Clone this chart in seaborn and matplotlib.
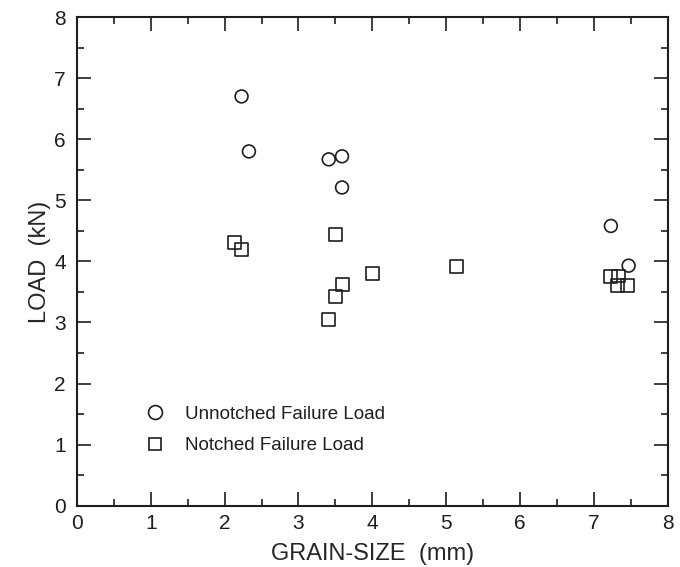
import matplotlib
matplotlib.use("Agg")
import matplotlib.pyplot as plt
import seaborn as sns
import pandas as pd
import numpy as np
from matplotlib.lines import Line2D

# Data
unnotched_x = [2.23, 2.33, 3.41, 3.59, 3.59, 7.23, 7.47]
unnotched_y = [6.70, 5.80, 5.67, 5.72, 5.21, 4.58, 3.93]
notched_x = [2.13, 2.23, 3.50, 3.60, 3.50, 3.41, 4.00, 5.14, 7.22, 7.33, 7.32, 7.45]
notched_y = [4.31, 4.19, 4.44, 3.62, 3.43, 3.05, 3.80, 3.92, 3.75, 3.76, 3.61, 3.61]
series_labels = ["Unnotched Failure Load", "Notched Failure Load"]
x_ticks = [0, 1, 2, 3, 4, 5, 6, 7, 8]
y_ticks = [0, 1, 2, 3, 4, 5, 6, 7, 8]

df = pd.DataFrame({
    "x": unnotched_x + notched_x,
    "y": unnotched_y + notched_y,
    "series": [series_labels[0]] * len(unnotched_x) + [series_labels[1]] * len(notched_x),
})

sns.set_theme(style="ticks")
plt.rcParams["font.family"] = ["Liberation Sans", "DejaVu Sans"]
ink = "#1e1e1e"
plt.rcParams["text.color"] = ink

fig = plt.figure(figsize=(6.8, 5.67), dpi=100)
ax = fig.add_axes([0.113, 0.108, 0.869, 0.862])

sns.scatterplot(data=df, x="x", y="y", style="series", hue="series",
                markers={series_labels[0]: "o", series_labels[1]: "s"},
                palette={series_labels[0]: ink, series_labels[1]: ink},
                linewidth=1.2, s=85, ax=ax, legend=False)
for c in ax.collections:
    c.set_facecolor("none")
    c.set_edgecolor(ink)

ax.set_xlim(0, 8)
ax.set_ylim(0, 8)
ax.set_xticks(x_ticks)
ax.set_yticks(y_ticks)
ax.set_xticks(np.arange(0.5, 8, 1.0), minor=True)
ax.set_yticks(np.arange(0.5, 8, 1.0), minor=True)
ax.tick_params(which="both", direction="in", top=True, right=True, colors=ink,
               labelsize=15, width=1.2)
ax.tick_params(which="major", length=10)
ax.tick_params(which="minor", length=5)
ax.tick_params(axis="x", pad=6)
ax.tick_params(axis="y", pad=8)
for sp in ax.spines.values():
    sp.set_linewidth(1.5)
    sp.set_color(ink)

ax.set_xlabel("GRAIN-SIZE  (mm)", fontsize=17, labelpad=7)
ax.set_ylabel("LOAD  (kN)", fontsize=17, labelpad=2)

handles = [Line2D([], [], marker="o", linestyle="none", markerfacecolor="none",
                  markeredgecolor=ink, markersize=10, markeredgewidth=1.2),
           Line2D([], [], marker="s", linestyle="none", markerfacecolor="none",
                  markeredgecolor=ink, markersize=9, markeredgewidth=1.2)]
ax.legend(handles, series_labels, loc="center left", bbox_to_anchor=(0.088, 0.155),
          frameon=False, fontsize=13.5, handlelength=1.0, handletextpad=1.1,
          labelspacing=0.75)

fig.savefig("out.png", dpi=100, facecolor="white")
